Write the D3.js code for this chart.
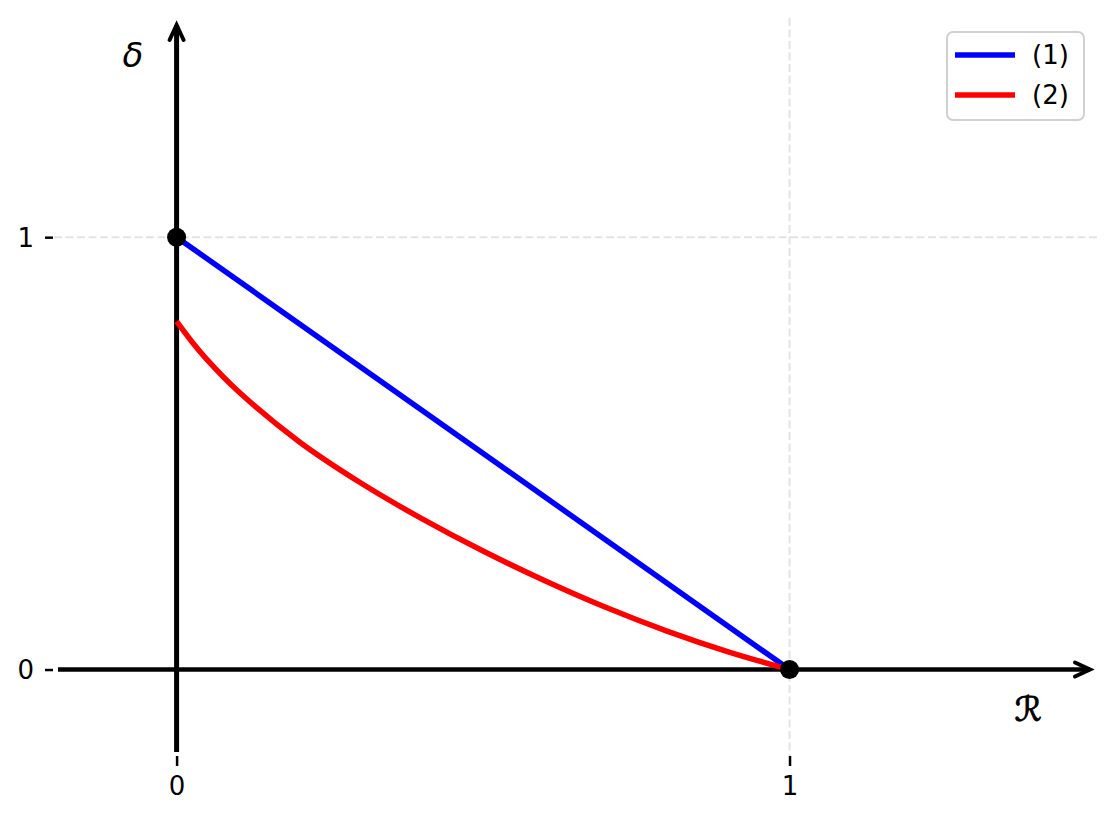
<!DOCTYPE html>
<html>
<head>
<meta charset="utf-8">
<script src="https://cdn.jsdelivr.net/npm/d3@7"></script>
<style>
  body { margin: 0; background: #fff; }
  text { font-family: "DejaVu Sans", sans-serif; }
</style>
</head>
<body>
<div id="chart"></div>
<script>
var width = 1116,
    height = 822;

// data
var rateLine = [0, 1],
    deltaLine = [1, 0];
var rateCurve  = [0, 0.025, 0.05, 0.1, 0.2, 0.3, 0.4, 0.5, 0.6, 0.7, 0.8, 0.9, 1.0],
    deltaCurve = [0.805, 0.758, 0.716, 0.644, 0.527, 0.432, 0.349, 0.274, 0.206, 0.144, 0.089, 0.041, 0];
var xTicks = [0, 1],
    yTicks = [0, 1];
var dotsR = [0, 1],
    dotsD = [1, 0];
var seriesNames = ["(1)", "(2)"],
    seriesColors = ["#0000ff", "#ff0000"];

var x = d3.scaleLinear().domain([-0.2, 1.5]).range([54, 1096]);
var y = d3.scaleLinear().domain([-0.2, 1.5]).range([756, 21]);

var svg = d3.select("#chart").append("svg")
    .attr("width", width)
    .attr("height", height);

// grid
svg.append("g").selectAll("line")
    .data(xTicks.filter(function(d) { return d !== 0; }))
  .enter().append("line")
    .attr("x1", function(d) { return x(d); })
    .attr("x2", function(d) { return x(d); })
    .attr("y1", y.range()[1] - 3)
    .attr("y2", y.range()[0])
    .attr("stroke", "#e3e3e3")
    .attr("stroke-width", 2)
    .attr("stroke-dasharray", "8,3.5");

svg.append("g").selectAll("line")
    .data(yTicks.filter(function(d) { return d !== 0; }))
  .enter().append("line")
    .attr("y1", function(d) { return y(d); })
    .attr("y2", function(d) { return y(d); })
    .attr("x1", x.range()[0])
    .attr("x2", x.range()[1] + 3)
    .attr("stroke", "#e3e3e3")
    .attr("stroke-width", 2)
    .attr("stroke-dasharray", "8,3.5");

// ticks
var xAxis = d3.axisBottom(x).tickValues(xTicks).tickSize(10).tickPadding(11)
    .tickFormat(d3.format("d"));
var yAxis = d3.axisLeft(y).tickValues(yTicks).tickSize(8).tickPadding(11)
    .tickFormat(d3.format("d"));

var gx = svg.append("g")
    .attr("transform", "translate(0," + y.range()[0] + ")")
    .call(xAxis);
var gy = svg.append("g")
    .attr("transform", "translate(" + (x.range()[0] - 1) + ",0)")
    .call(yAxis);

[gx, gy].forEach(function(g) {
  g.select(".domain").remove();
  g.selectAll(".tick line").attr("stroke", "#000").attr("stroke-width", 2.5);
  g.selectAll(".tick text")
      .attr("fill", "#000")
      .style("font-size", "26px")
      .style("font-family", "DejaVu Sans");
});
gy.selectAll(".tick text").attr("dy", "0.36em");

// axis lines with arrows
svg.append("line")
    .attr("x1", x.range()[0] + 4).attr("x2", x.range()[1] - 6)
    .attr("y1", y(0)).attr("y2", y(0))
    .attr("stroke", "#000").attr("stroke-width", 4.5);
svg.append("line")
    .attr("x1", x(0)).attr("x2", x(0))
    .attr("y1", y.range()[0] - 4).attr("y2", y.range()[1] + 4)
    .attr("stroke", "#000").attr("stroke-width", 5);

var tipX = x.range()[1] - 6, tipY = y.range()[1] + 4;
svg.append("path")
    .attr("d", "M" + (tipX - 15) + "," + (y(0) - 7) + "L" + tipX + "," + y(0) + "L" + (tipX - 15) + "," + (y(0) + 7))
    .attr("fill", "none").attr("stroke", "#000").attr("stroke-width", 4)
    .attr("stroke-linejoin", "miter").attr("stroke-linecap", "round");
svg.append("path")
    .attr("d", "M" + (x(0) - 7) + "," + (tipY + 15) + "L" + x(0) + "," + tipY + "L" + (x(0) + 7) + "," + (tipY + 15))
    .attr("fill", "none").attr("stroke", "#000").attr("stroke-width", 4)
    .attr("stroke-linejoin", "miter").attr("stroke-linecap", "round");

// series
var line = d3.line()
    .x(function(d) { return x(d[0]); })
    .y(function(d) { return y(d[1]); });

svg.append("path")
    .datum(d3.zip(rateLine, deltaLine))
    .attr("d", line)
    .attr("fill", "none")
    .attr("stroke", seriesColors[0])
    .attr("stroke-width", 5.5);

svg.append("path")
    .datum(d3.zip(rateCurve, deltaCurve))
    .attr("d", line.curve(d3.curveCatmullRom.alpha(0.5)))
    .attr("fill", "none")
    .attr("stroke", seriesColors[1])
    .attr("stroke-width", 5.5);

svg.append("g").selectAll("circle")
    .data(d3.zip(dotsR, dotsD))
  .enter().append("circle")
    .attr("cx", function(d) { return x(d[0]); })
    .attr("cy", function(d) { return y(d[1]); })
    .attr("r", 9.5)
    .attr("fill", "#000");

// axis labels
svg.append("text")
    .attr("x", 133).attr("y", 67)
    .attr("text-anchor", "middle")
    .style("font-size", "34px")
    .style("font-style", "italic")
    .style("font-family", "DejaVu Sans")
    .text("δ");
svg.append("text")
    .attr("x", 1028).attr("y", 721)
    .attr("text-anchor", "middle")
    .style("font-size", "34px")
    .style("font-style", "italic")
    .style("font-family", "DejaVu Sans")
    .attr("stroke", "#000").attr("stroke-width", 0.9)
    .text("ℛ");

// legend
var legend = svg.append("g");
legend.append("rect")
    .attr("x", 947).attr("y", 32)
    .attr("width", 137).attr("height", 88)
    .attr("rx", 6)
    .attr("fill", "#fff").attr("fill-opacity", 0.8)
    .attr("stroke", "#d0d0d0").attr("stroke-width", 2);

var item = legend.selectAll(".item")
    .data(seriesNames)
  .enter().append("g")
    .attr("transform", function(d, i) { return "translate(0," + (55 + i * 40) + ")"; });
item.append("line")
    .attr("x1", 955).attr("x2", 1015)
    .attr("stroke", function(d, i) { return seriesColors[i]; })
    .attr("stroke-width", 5.5);
item.append("text")
    .attr("x", 1032).attr("dy", "0.36em")
    .style("font-size", "26px")
    .text(function(d) { return d; });
</script>
</body>
</html>
